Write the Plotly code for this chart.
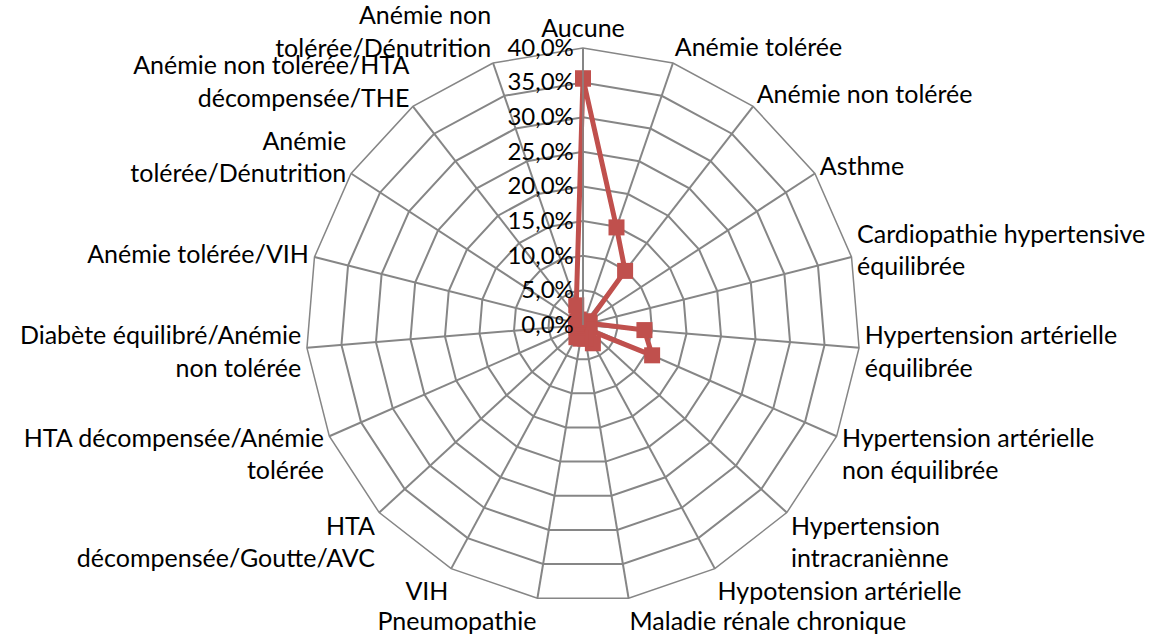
import plotly.graph_objects as go

categories = [
    "Aucune", "Anémie tolérée", "Anémie non tolérée", "Asthme",
    "Cardiopathie hypertensive équilibrée", "Hypertension artérielle équilibrée",
    "Hypertension artérielle non équilibrée", "Hypertension intracraniènne",
    "Hypotension artérielle", "Maladie rénale chronique", "Pneumopathie", "VIH",
    "HTA décompensée/Goutte/AVC", "HTA décompensée/Anémie tolérée",
    "Diabète équilibré/Anémie non tolérée", "Anémie tolérée/VIH",
    "Anémie tolérée/Dénutrition", "Anémie non tolérée/HTA décompensée/THE",
    "Anémie non tolérée/Dénutrition",
]
tick_labels = [
    "Aucune", "Anémie tolérée", "Anémie non tolérée", "Asthme",
    "Cardiopathie hypertensive<br>équilibrée", "Hypertension artérielle<br>équilibrée",
    "Hypertension artérielle<br>non équilibrée", "Hypertension<br>intracraniènne",
    "Hypotension artérielle", "Maladie rénale chronique", "Pneumopathie", "VIH",
    "HTA<br>décompensée/Goutte/AVC", "HTA décompensée/Anémie<br>tolérée",
    "Diabète équilibré/Anémie<br>non tolérée", "Anémie tolérée/VIH",
    "Anémie<br>tolérée/Dénutrition", "Anémie non tolérée/HTA<br>décompensée/THE",
    "Anémie non<br>tolérée/Dénutrition",
]
values = [0.356, 0.149, 0.099, 0.010, 0.010, 0.089, 0.109, 0.010, 0.030, 0.020,
          0.020, 0.020, 0.010, 0.010, 0.010, 0.010, 0.010, 0.010, 0.030]
radial_ticks = [0.0, 0.05, 0.10, 0.15, 0.20, 0.25, 0.30, 0.35, 0.40]

RED = "#C0504D"
GRID = "#868686"
FONT = "Lato"
FS = 25

fig = go.Figure()
fig.add_trace(go.Scatterpolar(
    r=values + values[:1],
    theta=categories + categories[:1],
    mode="lines+markers",
    line=dict(color=RED, width=5),
    marker=dict(symbol="square", size=16, color=RED),
    showlegend=False,
))

fig.update_layout(
    width=1156, height=637,
    margin=dict(l=0, r=0, t=0, b=0),
    paper_bgcolor="white",
    separators=",.",
    font=dict(family=FONT, size=FS, color="black"),
    polar=dict(
        domain=dict(x=[0.26471, 0.74394], y=[0.05495, 0.92465]),
        bgcolor="white",
        gridshape="linear",
        radialaxis=dict(
            range=[0, 0.4], tickvals=radial_ticks, tickformat=".1%",
            angle=90, tickangle=90, side="counterclockwise",
            showline=True, linecolor=GRID, linewidth=1.5,
            gridcolor=GRID, gridwidth=1.5, ticks="",
            tickfont=dict(family=FONT, size=FS - 1),
        ),
        angularaxis=dict(
            rotation=90, direction="clockwise",
            tickvals=categories, ticktext=tick_labels,
            showline=True, linecolor=GRID, linewidth=1.5,
            gridcolor=GRID, gridwidth=1.5, ticks="",
            tickfont=dict(family=FONT, size=FS),
        ),
    ),
)

fig.write_html("out.html", config={"displayModeBar": False},
               post_script="document.body.style.margin='0';")
